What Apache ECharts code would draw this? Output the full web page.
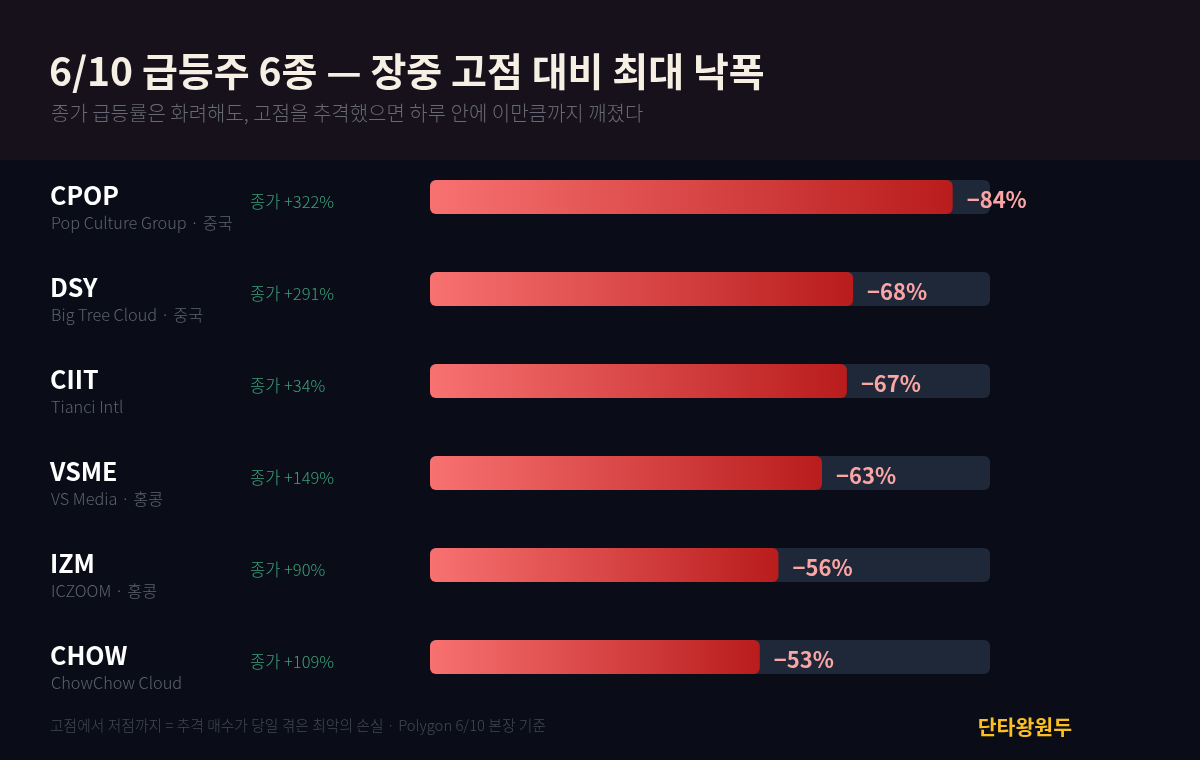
<!DOCTYPE html>
<html><head><meta charset="utf-8">
<script src="https://cdn.jsdelivr.net/npm/echarts@6/dist/echarts.min.js"></script>
<style>html,body{margin:0;padding:0;background:#0a0d17;}#c{width:1200px;height:760px;}</style>
</head><body><div id="c"></div>
<script>
const tickers = ['CPOP','DSY','CIIT','VSME','IZM','CHOW'];
const names = ['Pop Culture Group · 중국','Big Tree Cloud · 중국','Tianci Intl','VS Media · 홍콩','ICZOOM · 홍콩','ChowChow Cloud'];
const closeGain = [322,291,34,149,90,109];
const drawdownPct = [84,68,67,63,56,53];
const axisMax = 90;

const FONT = '"Noto Sans CJK KR","Noto Sans",sans-serif';
const chart = echarts.init(document.getElementById('c'));
chart.setOption({
  backgroundColor:'#0a0d17',
  textStyle:{fontFamily:FONT},
  graphic:[
    {type:'rect',left:0,top:0,shape:{width:1200,height:160},style:{fill:'#16111b'},z:-10},
    {type:'text',left:49,top:52,style:{text:'6/10 급등주 6종 — 장중 고점 대비 최대 낙폭',fill:'#f6efe4',font:'bold 39px '+FONT}},
    {type:'text',left:51,top:103,style:{text:'종가 급등률은 화려해도, 고점을 추격했으면 하루 안에 이만큼까지 깨졌다',fill:'#676a76',font:'300 20px '+FONT}},
    {type:'text',left:50,top:718,style:{text:'고점에서 저점까지 = 추격 매수가 당일 겪은 최악의 손실 · Polygon 6/10 본장 기준',fill:'#434856',font:'300 14.8px '+FONT}},
    {type:'text',right:128,top:717,style:{text:'단타왕원두',fill:'#fbbf24',font:'bold 20.5px '+FONT}}
  ],
  grid:{left:430,right:210,top:151,bottom:57},
  xAxis:{type:'value',min:0,max:axisMax,show:false},
  yAxis:[
    {type:'category',data:tickers,inverse:true,position:'left',
     axisLine:{show:false},axisTick:{show:false},splitLine:{show:false},
     axisLabel:{margin:380,align:'left',verticalAlign:'middle',padding:[22,0,0,0],
       formatter:(v,i)=>'{t|'+v+'}\n{n|'+names[i]+'}',
       rich:{t:{fontFamily:FONT,fontSize:25,fontWeight:'bold',color:'#ffffff',lineHeight:30},
             n:{fontFamily:FONT,fontSize:16.3,fontWeight:300,color:'#5d6270',lineHeight:26,padding:[0,0,0,1]}}}},
    {type:'category',data:tickers,inverse:true,position:'left',
     axisLine:{show:false},axisTick:{show:false},splitLine:{show:false},
     axisLabel:{margin:180,align:'left',verticalAlign:'middle',
       formatter:(v,i)=>'{c|종가 +'+closeGain[i]+'%}',
       rich:{c:{color:'#3d9f7c',fontSize:16.5,fontWeight:300,fontFamily:FONT,lineHeight:18,padding:[9,0,0,0]}}}}
  ],
  series:[{
    type:'bar',yAxisIndex:0,data:drawdownPct,barWidth:34,
    showBackground:true,backgroundStyle:{color:'#1f2839',borderRadius:6},
    itemStyle:{borderRadius:6,color:new echarts.graphic.LinearGradient(0,0,1,0,[{offset:0,color:'#f87171'},{offset:1,color:'#b91c1c'}])},
    label:{show:true,position:'right',distance:14,offset:[0,3],formatter:p=>'\u2212'+p.value+'%',color:'#fca5a5',fontSize:22,fontWeight:'bold',fontFamily:FONT},
    animation:false
  }],
  animation:false
});
</script></body></html>
